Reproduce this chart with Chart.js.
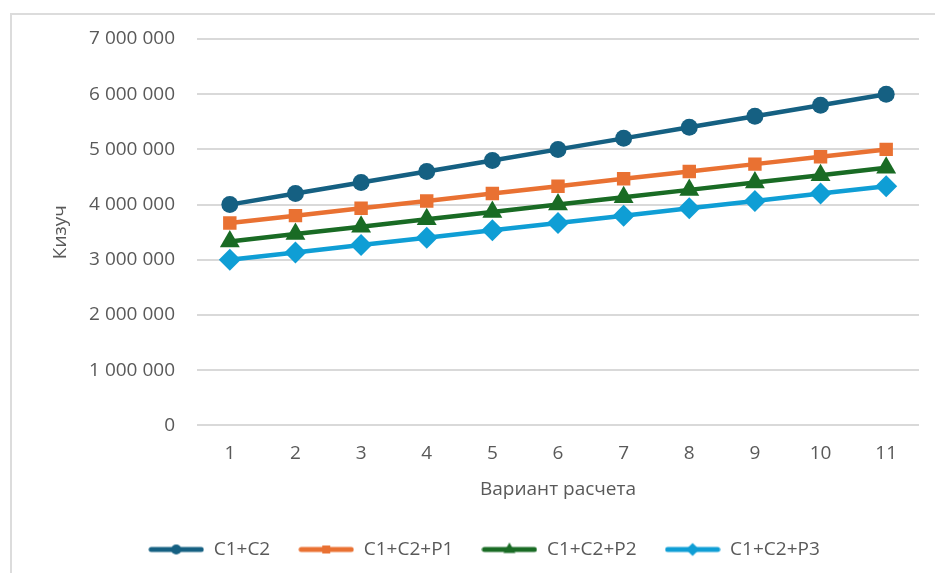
<!DOCTYPE html>
<html>
<head>
<meta charset="utf-8">
<script src="https://cdn.jsdelivr.net/npm/chart.js@4.4.1/dist/chart.umd.min.js"></script>
<style>
  html, body { margin: 0; padding: 0; background: #fff; }
  #frame { position: absolute; left: 10px; top: 13px; width: 960px; height: 600px; border: 2px solid #dcdcdc; box-sizing: border-box; }
  #wrap { position: absolute; left: 0; top: 0; width: 935px; height: 573px; }
</style>
</head>
<body>
<div id="frame"></div>
<div id="wrap"><canvas id="chart"></canvas></div>
<script>
const variants = ['1', '2', '3', '4', '5', '6', '7', '8', '9', '10', '11'];
const seriesNames = ['C1+C2', 'C1+C2+P1', 'C1+C2+P2', 'C1+C2+P3'];
const c1c2 = [4000000, 4200000, 4400000, 4600000, 4800000, 5000000, 5200000, 5400000, 5600000, 5800000, 6000000];
const c1c2p1 = [3666667, 3800000, 3933333, 4066667, 4200000, 4333333, 4466667, 4600000, 4733333, 4866667, 5000000];
const c1c2p2 = [3333333, 3466667, 3600000, 3733333, 3866667, 4000000, 4133333, 4266667, 4400000, 4533333, 4666667];
const c1c2p3 = [3000000, 3133333, 3266667, 3400000, 3533333, 3666667, 3800000, 3933333, 4066667, 4200000, 4333333];
const yTicks = [0, 1000000, 2000000, 3000000, 4000000, 5000000, 6000000, 7000000];

const colors = ['#156082', '#E97132', '#196B24', '#0F9ED5'];
const styles = ['circle', 'rect', 'triangle', 'rectRot'];
const radii = [8.5, 9.5, 11.5, 11];
const textColor = '#595959';
const fontFamily = '"Open Sans", "Liberation Sans", sans-serif';

function fmt(v) {
    return String(v).replace(/\B(?=(\d{3})+(?!\d))/g, ' ');
}

// small line+marker pictures for the legend
function legendMarker(color, style, r) {
    const c = document.createElement('canvas');
    c.width = 56;
    c.height = 20;
    const g = c.getContext('2d');
    g.strokeStyle = color;
    g.lineWidth = 5;
    g.lineCap = 'round';
    g.beginPath();
    g.moveTo(3, 10);
    g.lineTo(53, 10);
    g.stroke();
    g.fillStyle = color;
    Chart.helpers.drawPoint(g, { pointStyle: style, radius: r, borderWidth: 0 }, 28, 10);
    return c;
}
const markers = colors.map((c, i) => legendMarker(c, styles[i], radii[i] * 0.6));

const allData = [c1c2, c1c2p1, c1c2p2, c1c2p3];

const ctx = document.getElementById('chart').getContext('2d');
new Chart(ctx, {
    type: 'line',
    data: {
        labels: variants,
        datasets: allData.map((d, i) => ({
            label: seriesNames[i],
            data: d,
            borderColor: colors[i],
            backgroundColor: colors[i],
            borderWidth: 4.5,
            pointStyle: styles[i],
            pointRadius: radii[i],
            pointBorderWidth: 0,
            pointBackgroundColor: colors[i],
            tension: 0
        }))
    },
    options: {
        responsive: true,
        maintainAspectRatio: false,
        animation: false,
        layout: { padding: { left: 49, right: 16, top: 39, bottom: 4 } },
        scales: {
            x: {
                offset: true,
                grid: { display: false },
                border: { display: false },
                ticks: { color: textColor, font: { family: fontFamily, size: 19 }, padding: 9 },
                title: { display: true, text: 'Вариант расчета', color: textColor, font: { family: fontFamily, size: 19 }, padding: { top: 4, bottom: 11 } }
            },
            y: {
                min: 0,
                max: 7000000,
                afterBuildTicks: (scale) => { scale.ticks = yTicks.map(v => ({ value: v })); },
                afterFit: (scale) => { scale.width = 148; },
                grid: { color: '#d9d9d9', lineWidth: 2, drawTicks: false },
                border: { display: false },
                ticks: { color: textColor, font: { family: fontFamily, size: 19 }, padding: 22, callback: (v) => fmt(v) },
                title: { display: true, text: 'Кизуч', color: textColor, font: { family: fontFamily, size: 19 }, padding: 0 }
            }
        },
        plugins: {
            legend: {
                position: 'bottom',
                labels: {
                    usePointStyle: true,
                    pointStyleWidth: 56,
                    color: textColor,
                    font: { family: fontFamily, size: 19 },
                    padding: 28,
                    generateLabels: (chart) => {
                        const items = Chart.defaults.plugins.legend.labels.generateLabels(chart);
                        items.forEach((it, i) => { it.pointStyle = markers[i]; });
                        return items;
                    }
                }
            },
            tooltip: { enabled: false }
        }
    }
});
</script>
</body>
</html>
